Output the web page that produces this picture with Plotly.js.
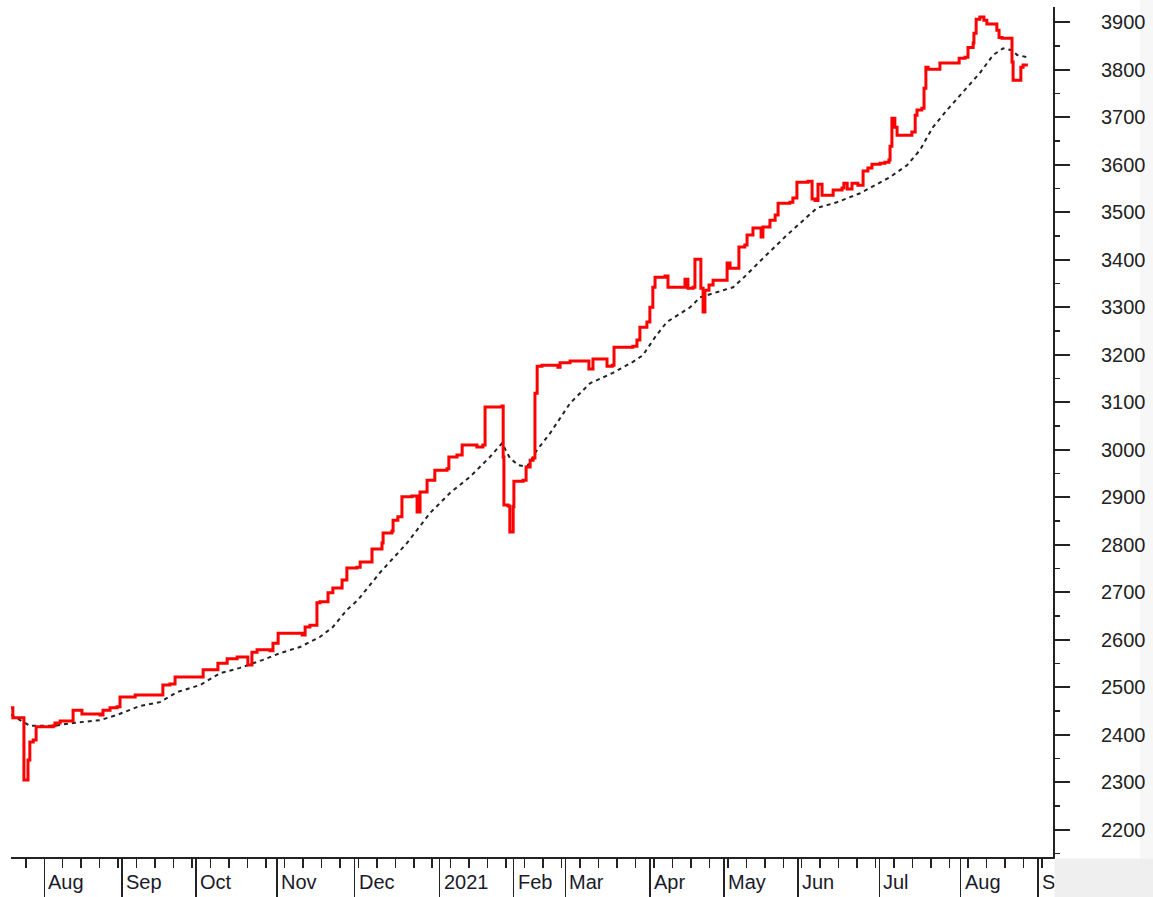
<!DOCTYPE html>
<html>
<head>
<meta charset="utf-8">
<script src="https://cdn.plot.ly/plotly-3.0.1.min.js"></script>
<style>html,body{margin:0;padding:0;background:#fff}#chart{width:1153px;height:897px}</style>
</head>
<body>
<div id="chart"></div>
<script>
// Trading-day index (x) and values
const priceDay = [0,0.5,3.2,3.5,3.8,4.3,4.6,5.1,6,6.8,11.4,11.9,13.3,16,16.8,17.9,19.2,24.1,24.9,26.8,28.7,29.5,30.9,33.6,40.3,41.1,43,44.4,49.3,52,54.7,56,58.5,61.2,63.3,64.1,65.2,66.6,70.1,70.9,72.3,74.2,78.8,79.6,80.9,82.3,82.8,83.6,85,85.8,87.1,88.5,89.6,90.9,93.6,94.5,97.7,100.4,100.7,103.1,103.4,104.7,105.8,108.5,109.9,110.7,112.6,114.7,118,118.5,120.7,122.1,125,126.1,127.7,128.3,132.9,133.2,133.4,134.5,135,135.9,136.1,138.6,139.4,140.5,141.3,141.8,142.4,143.7,148,148.6,151.3,155.9,156.4,157.5,160.2,161.3,162.7,163.2,168.3,169.4,170.2,172.1,172.9,173.7,174.3,177,177.8,181.9,182.4,183.2,184.6,185.1,186.2,186.7,187.3,187.8,188.9,190,193,193.8,194.6,196.5,197,198.6,199.2,200.8,201.9,203,203.5,205.4,206.8,207.6,210.8,211.6,212.7,215.7,216.8,217.6,218.4,219.5,222.2,222.5,224.9,225.4,226.3,227.6,229.2,230.6,231.9,233,235.2,236.5,237.6,237.9,238.4,239.2,239.8,242.8,243.8,244.7,245.2,246.5,247.1,247.6,248.2,250.6,251.4,256,256.6,258.2,259,260.4,260.6,261.2,262.2,263.3,264.1,265.8,266.8,267.4,268.2,270.4,270.9,271.2,272.5,273.3,273.9,275.2];
const priceVal = [2457,2436,2436,2305,2305,2305,2347,2385,2389,2417,2419,2425,2429,2429,2452,2452,2444,2442,2452,2457,2459,2480,2480,2484,2484,2505,2507,2522,2522,2537,2537,2551,2560,2564,2564,2547,2574,2579,2577,2593,2614,2614,2610,2627,2631,2631,2678,2680,2680,2699,2709,2709,2726,2751,2753,2764,2791,2804,2825,2829,2852,2859,2901,2903,2869,2911,2936,2957,2960,2985,2989,3010,3010,3006,3010,3090,3092,2985,2884,2882,2827,2880,2934,2936,2964,2978,2983,3119,3176,3178,3174,3183,3187,3187,3170,3191,3191,3176,3178,3216,3218,3231,3258,3269,3300,3342,3363,3366,3342,3342,3359,3340,3342,3401,3401,3340,3290,3336,3347,3357,3357,3393,3382,3382,3427,3431,3452,3467,3467,3448,3469,3483,3494,3519,3521,3530,3563,3565,3528,3525,3559,3536,3536,3547,3551,3561,3549,3561,3557,3587,3593,3601,3603,3605,3610,3639,3698,3679,3662,3662,3669,3704,3715,3719,3761,3805,3801,3801,3814,3814,3824,3826,3847,3856,3877,3906,3911,3904,3896,3896,3883,3868,3866,3866,3816,3778,3778,3805,3810,3810];

const avgDay = [0,5.1,11.4,16.8,24.1,28.7,34.9,40.3,44.9,51.2,56.6,62,68.2,72.8,78.2,83.6,87.1,90.9,93.9,99.8,107.2,113.4,118.8,124.2,129.6,132.9,135,137.2,139.6,142.4,145.9,151.3,156.7,162.9,168.3,171,174.3,177.5,183.8,186.5,195.4,198.1,203.5,210,215.4,218.1,223.5,229.8,237.9,242.5,246,249.5,253.3,257.6,262.2,265.8,268.5,270.9,272.3,275.2];
const avgVal = [2442,2419,2419,2425,2431,2442,2461,2469,2490,2505,2530,2541,2558,2572,2585,2606,2627,2663,2684,2741,2804,2867,2909,2943,2985,3014,2983,2968,2964,3000,3035,3098,3140,3162,3185,3199,3237,3269,3300,3321,3342,3361,3403,3452,3490,3509,3521,3540,3574,3599,3631,3679,3715,3753,3793,3831,3845,3841,3831,3826];

const monthStart = [9,30,50,72,93,116,136,150,173,193,213,235,257,278];
const monthLabels = ['Aug','Sep','Oct','Nov','Dec','2021','Feb','Mar','Apr','May','Jun','Jul','Aug','Sep'];
const yTicks = [2200,2300,2400,2500,2600,2700,2800,2900,3000,3100,3200,3300,3400,3500,3600,3700,3800,3900];

const traces = [
  {x: avgDay, y: avgVal, type:'scatter', mode:'lines',
   line:{color:'#222', width:2, dash:'4px,4px'}, hoverinfo:'skip'},
  {x: priceDay, y: priceVal, type:'scatter', mode:'lines',
   line:{color:'#ff0000', width:3, shape:'hv'}, hoverinfo:'skip'}
];

const annotations = monthStart.map((d,i)=>({
  x:d, xref:'x', y:0, yref:'paper', yanchor:'middle', yshift:-25,
  xanchor:'left', xshift:2, text:monthLabels[i], showarrow:false,
  font:{family:'Liberation Sans, Arial, sans-serif', size:20, color:'#1a1a2a'}
}));
// grey corner box covering the clipped label, as in the reference
annotations.push({x:1.0013, xref:'paper', y:-0.0015, yref:'paper', xanchor:'left', yanchor:'top',
  text:' ', showarrow:false, width:100, height:40, bgcolor:'#efefef', borderpad:0});

const layout = {
  width:1153, height:897,
  margin:{l:11, r:100, t:7, b:40},
  paper_bgcolor:'#ffffff', plot_bgcolor:'#ffffff',
  showlegend:false,
  xaxis:{
    range:[0,282], showgrid:false, zeroline:false,
    showline:true, linecolor:'#222', linewidth:2,
    tickmode:'array', tickvals:monthStart, ticktext:monthLabels, showticklabels:false,
    ticks:'outside', ticklen:40, tickwidth:1.5, tickcolor:'#222',
    minor:{tick0:4, dtick:5, ticks:'outside', ticklen:9, tickwidth:1.5, tickcolor:'#222'}
  },
  yaxis:{
    side:'right', range:[2143,3932], showgrid:false, zeroline:false,
    showline:true, linecolor:'#222', linewidth:2,
    tickmode:'array', tickvals:yTicks, ticktext:yTicks.map(String),
    ticks:'outside', ticklen:15, tickwidth:2, tickcolor:'#222',
    ticklabelstandoff:27,
    tickfont:{family:'Liberation Sans, Arial, sans-serif', size:20, color:'#222'},
    minor:{tick0:2150, dtick:100, ticks:'outside', ticklen:5, tickwidth:1.5, tickcolor:'#222'}
  },
  shapes:[
    {type:'rect', xref:'paper', yref:'paper', x0:1.0835, x1:1.1, y0:-0.05, y1:1.01,
     fillcolor:'#f7f7f7', line:{width:0}, layer:'below'}
  ],
  annotations: annotations
};

Plotly.newPlot('chart', traces, layout, {staticPlot:true, displayModeBar:false});
</script>
</body>
</html>
